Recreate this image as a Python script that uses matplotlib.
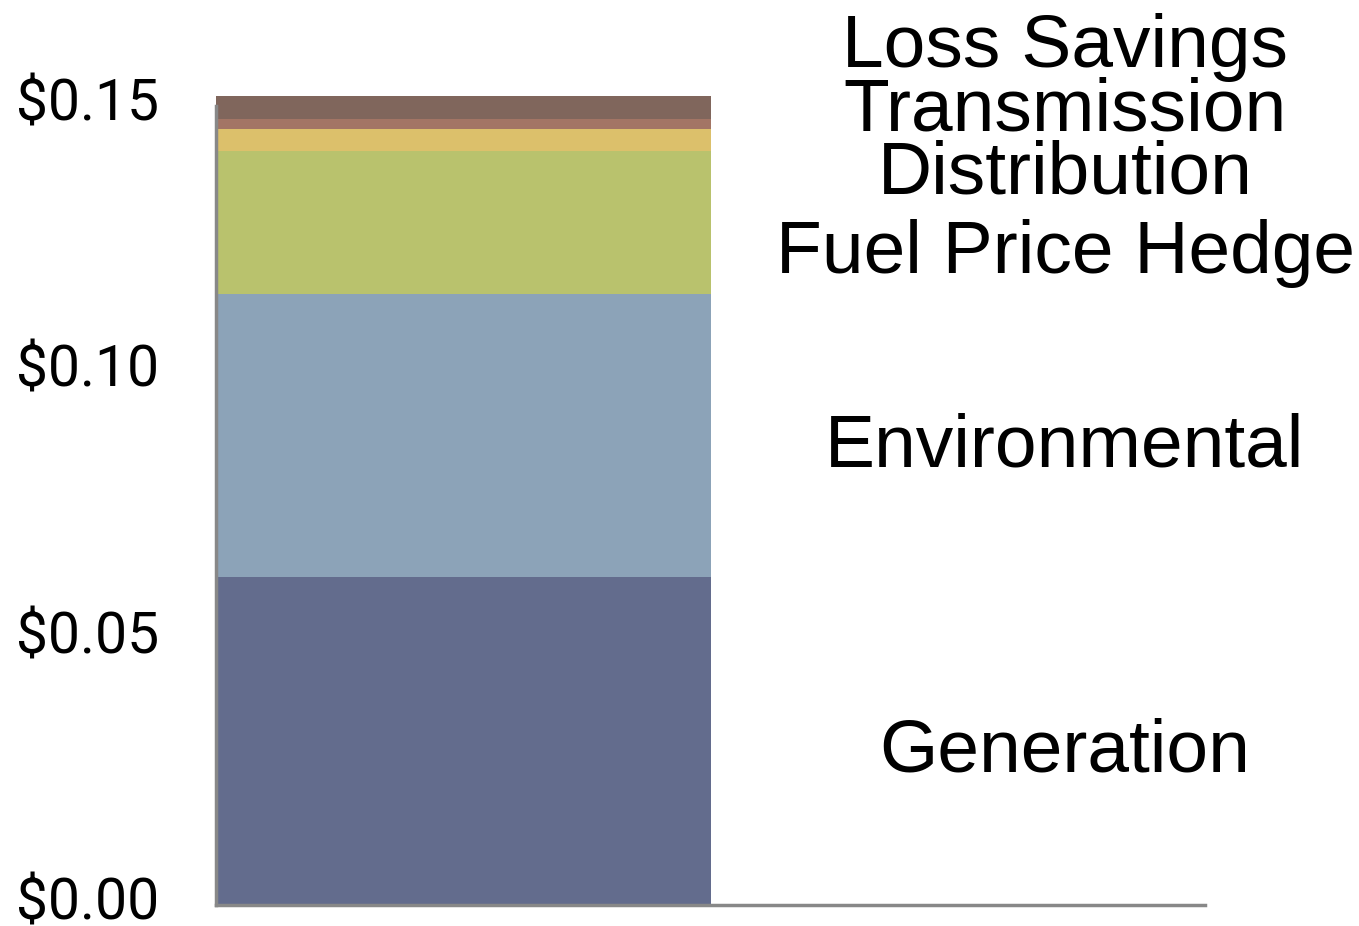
import numpy as np
import matplotlib
matplotlib.use("Agg")
import matplotlib.pyplot as plt
import matplotlib.transforms as mtransforms
from matplotlib.ticker import FuncFormatter

# cost components, $/kWh, stacked bottom to top
components = ["Generation", "Environmental", "Fuel Price Hedge",
              "Distribution", "Transmission", "Loss Savings"]
values = [0.0616, 0.0531, 0.0268, 0.0041, 0.0019, 0.0043]
colors = ["#636c8d", "#8ca3b8", "#b9c26d", "#dcc06b", "#a37565", "#80665c"]
yticks = [0.0, 0.05, 0.10, 0.15]

fig = plt.figure(figsize=(13.59, 9.26), dpi=100)
ax = fig.add_axes([216 / 1359, 21 / 926, 989 / 1359, 799 / 926])

bottom = 0.0
for name, v, c in zip(components, values, colors):
    ax.bar(0, v, width=1.0, bottom=bottom, color=c, clip_on=False, zorder=1)
    bottom += v

ax.set_xlim(-0.5, 1.5)
ax.set_ylim(0, 0.15)
ax.set_xticks([])
ax.set_yticks(yticks)
ax.yaxis.set_major_formatter(FuncFormatter(lambda v, p: "$%.2f" % v))
ax.tick_params(axis="y", length=0, pad=41, labelsize=41)
shift = mtransforms.ScaledTranslation(0, 7 / 100, fig.dpi_scale_trans)
for lbl in ax.get_yticklabels():
    lbl.set_family("Roboto")
    lbl.set_transform(lbl.get_transform() + shift)

for s in ["top", "right"]:
    ax.spines[s].set_visible(False)
for s in ["left", "bottom"]:
    ax.spines[s].set_color("#888888")
    ax.spines[s].set_linewidth(2.5)
    ax.spines[s].set_zorder(3)

# labels to the right of the bar
label_y = [752, 447, 254, 174, 111, 47]
for name, py in zip(components, label_y):
    fig.text(1065 / 1359, 1 - py / 926, name, ha="center", va="center",
             fontsize=54, family="Liberation Sans")

fig.savefig("out.png", dpi=100)
